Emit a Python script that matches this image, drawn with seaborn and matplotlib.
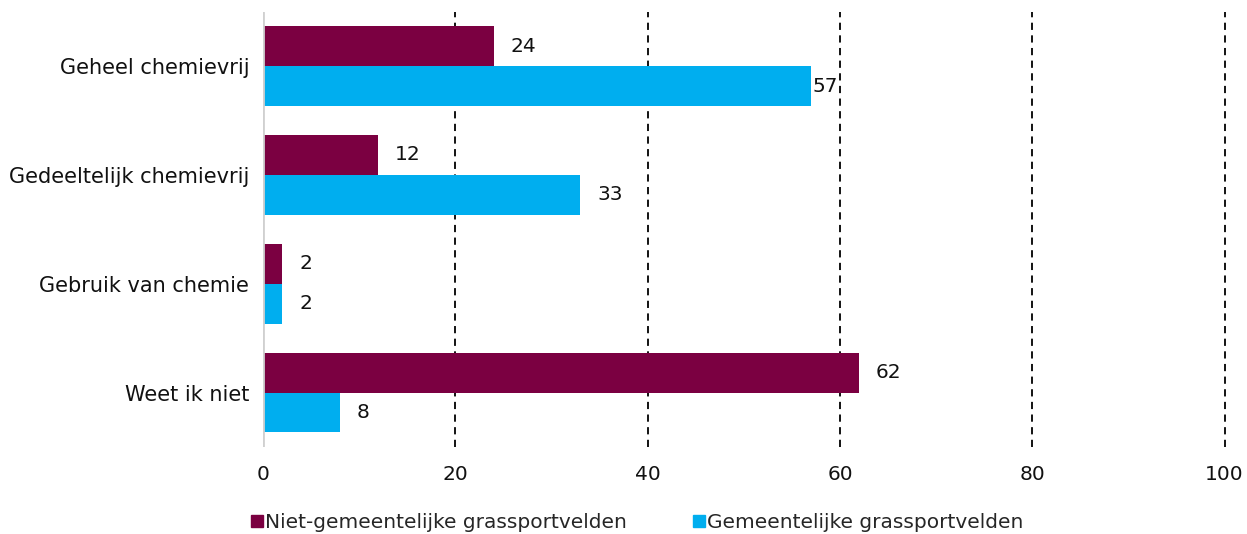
import matplotlib.pyplot as plt
import seaborn as sns
import pandas as pd
from matplotlib.lines import Line2D

# Datos del grafico
categorias = ['Geheel chemievrij', 'Gedeeltelijk chemievrij', 'Gebruik van chemie', 'Weet ik niet']
series = ['Niet-gemeentelijke grassportvelden', 'Gemeentelijke grassportvelden']
niet_gemeentelijk = [24, 12, 2, 62]
gemeentelijk = [57, 33, 2, 8]
colores = ['#7b0041', '#00aeef']

datos = pd.DataFrame({
    'categoria': categorias * 2,
    'serie': [series[0]] * 4 + [series[1]] * 4,
    'valor': niet_gemeentelijk + gemeentelijk,
})

sns.set_style('white')
plt.rcParams['font.family'] = ['DejaVu Sans']

fig, ax = plt.subplots(figsize=(12.47, 5.34), dpi=100)
fig.subplots_adjust(left=0.211, right=0.982, top=0.978, bottom=0.163)

sns.barplot(data=datos, y='categoria', x='valor', hue='serie', orient='h',
            palette=colores, width=0.734, gap=0, saturation=1,
            linewidth=0, legend=False, ax=ax)

ax.set_xlim(0, 100)
ax.set_ylim(3.5, -0.5)
ax.set_xticks([0, 20, 40, 60, 80, 100])
ax.set_xlabel('')
ax.set_ylabel('')
ax.tick_params(axis='x', length=0, labelsize=14.5, colors='#111111', pad=13)
ax.tick_params(axis='y', length=0, labelsize=15, colors='#111111', pad=10)

for s in ax.spines.values():
    s.set_visible(False)
for xv in [20, 40, 60, 80, 100]:
    ax.axvline(xv, color='black', linestyle=(0, (4, 3)), linewidth=1.3, zorder=0, clip_on=False)
ax.axvline(0, color='#d0d0d0', linewidth=2, zorder=3)

# Etiquetas de valores
for cont in ax.containers:
    for barra in cont:
        v = barra.get_width()
        pad = 1 if round(v) == 57 else 12
        ax.annotate(f'{v:.0f}', (v, barra.get_y() + barra.get_height() / 2),
                    xytext=(pad, 0), textcoords='offset points',
                    va='center', ha='left', fontsize=14.5, color='#111111')

handles = [Line2D([], [], marker='s', linestyle='', color=c, markersize=8) for c in colores]
fig.legend(handles, series, loc='lower center', bbox_to_anchor=(0.51, -0.03), ncol=2,
           frameon=False, fontsize=14.5, handletextpad=0.0, columnspacing=3.2,
           handlelength=0.8)

plt.savefig('out.png', dpi=100)
